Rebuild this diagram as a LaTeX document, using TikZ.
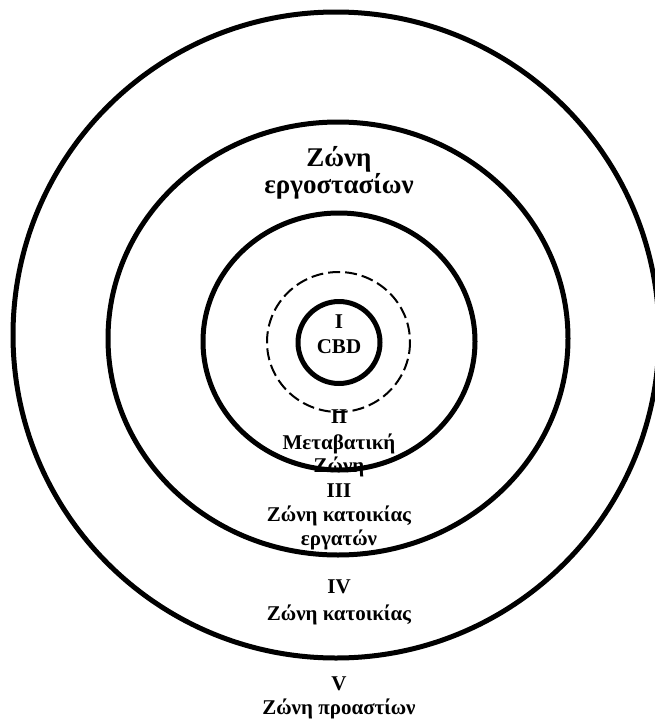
\documentclass[tikz,border=0pt]{standalone}
\usepackage{fontspec}
\setmainfont{Liberation Serif}
\usetikzlibrary{positioning}

\begin{document}
\begin{tikzpicture}[x=1pt, y=-1pt,
    ring/.style={line width=5pt},
    dashring/.style={line width=2pt, dash pattern=on 12pt off 5pt},
    lbl/.style={anchor=base, inner sep=0pt, font=\bfseries\fontsize{21}{25}\selectfont},
    biglbl/.style={anchor=base, inner sep=0pt, font=\bfseries\fontsize{27}{31}\selectfont}]
    \useasboundingbox (0,0) rectangle (655,720);
    % zone labels
    \node[biglbl] (factA) at (339,166) {Ζώνη};
    \node[biglbl] (factB) at (339,193) {εργοστασίων};
    \node[lbl] (cbdA) at (339,328) {I};
    \node[lbl] (cbdB) at (339,353) {CBD};
    \node[lbl] (transA) at (339,423) {II};
    \node[lbl] (transB) at (339,449) {Μεταβατική};
    \node[lbl] (transC) at (339,472) {Ζώνη};
    \node[lbl] (workA) at (339,497) {III};
    \node[lbl] (workB) at (339,521) {Ζώνη κατοικίας};
    \node[lbl] (workC) at (339,545) {εργατών};
    \node[lbl] (homeA) at (339,593) {IV};
    \node[lbl] (homeB) at (339,620) {Ζώνη κατοικίας};
    \node[lbl] (subA) at (339,690) {V};
    \node[lbl] (subB) at (339,714) {Ζώνη προαστίων};
    % rings
    \draw[ring] (336,335) circle (323);
    \draw[ring] (338,338.5) ellipse (230 and 216.5);
    \draw[ring] (339,341.5) ellipse (136 and 128.5);
    \draw[dashring] (338.5,342) ellipse (71.5 and 70);
    \draw[ring] (339,342.5) circle (41);
\end{tikzpicture}
\end{document}
